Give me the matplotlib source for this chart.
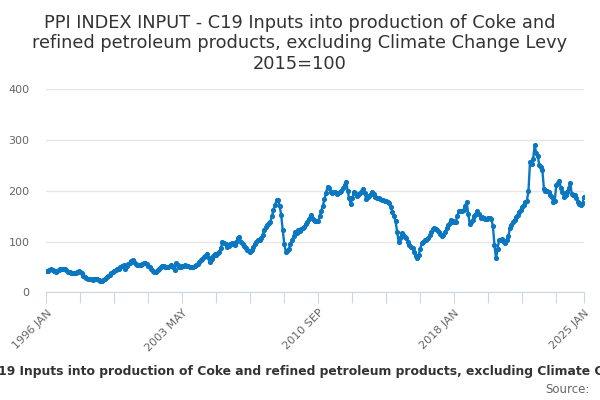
import matplotlib
matplotlib.use("Agg")
import matplotlib.pyplot as plt
import numpy as np

# monthly index values, 1996 JAN .. 2025 JAN
v1996 = [42, 43, 44, 46, 44, 42, 41, 43, 45, 47, 46, 46]
v1997 = [46, 44, 41, 40, 39, 39, 38, 39, 41, 42, 41, 38]
v1998 = [32, 30, 28, 27, 27, 26, 25, 26, 27, 26, 24, 23]
v1999 = [23, 24, 26, 30, 33, 35, 38, 40, 42, 44, 46, 47]
v2000 = [49, 51, 53, 46, 52, 56, 58, 61, 64, 60, 56, 53]
v2001 = [54, 53, 55, 57, 58, 55, 52, 50, 46, 42, 40, 41]
v2002 = [45, 47, 50, 52, 51, 49, 49, 50, 52, 53, 49, 45]
v2003 = [58, 54, 49, 49, 51, 51, 53, 52, 51, 50, 49, 50]
v2004 = [51, 53, 56, 60, 63, 66, 69, 72, 76, 68, 60, 66]
v2005 = [72, 76, 74, 77, 80, 88, 99, 97, 95, 90, 92, 95]
v2006 = [97, 95, 93, 100, 107, 109, 100, 95, 92, 88, 84, 82]
v2007 = [80, 84, 90, 96, 100, 103, 104, 106, 113, 122, 128, 133]
v2008 = [136, 139, 150, 162, 172, 181, 182, 170, 152, 122, 95, 80]
v2009 = [82, 86, 95, 103, 110, 119, 116, 122, 120, 125, 127, 128]
v2010 = [135, 138, 145, 152, 146, 143, 141, 140, 140, 150, 161, 170]
v2011 = [184, 196, 208, 205, 197, 196, 197, 198, 194, 196, 198, 200]
v2012 = [205, 212, 218, 200, 185, 173, 185, 197, 196, 190, 192, 196]
v2013 = [200, 204, 195, 184, 188, 190, 194, 197, 193, 188, 186, 185]
v2014 = [184, 182, 181, 180, 179, 178, 175, 168, 158, 150, 140, 119]
v2015 = [100, 106, 116, 113, 108, 106, 100, 93, 90, 88, 80, 72]
v2016 = [68, 74, 86, 97, 100, 103, 104, 106, 112, 119, 124, 126]
v2017 = [125, 123, 118, 114, 110, 113, 118, 126, 132, 136, 142, 140]
v2018 = [138, 139, 150, 160, 160, 161, 162, 170, 178, 155, 134, 138]
v2019 = [142, 150, 155, 160, 155, 147, 148, 146, 144, 145, 146, 147]
v2020 = [145, 130, 93, 67, 85, 103, 104, 105, 100, 97, 103, 110]
v2021 = [126, 133, 139, 143, 148, 152, 158, 162, 168, 172, 178, 180]
v2022 = [200, 256, 252, 262, 289, 275, 269, 250, 247, 240, 204, 200]
v2023 = [200, 198, 192, 188, 178, 180, 211, 215, 220, 205, 198, 188]
v2024 = [192, 198, 205, 215, 194, 192, 191, 185, 178, 174, 172, 175]
v2025 = [188]

values = (v1996 + v1997 + v1998 + v1999 + v2000 + v2001 + v2002 + v2003 + v2004
          + v2005 + v2006 + v2007 + v2008 + v2009 + v2010 + v2011 + v2012 + v2013
          + v2014 + v2015 + v2016 + v2017 + v2018 + v2019 + v2020 + v2021 + v2022
          + v2023 + v2024 + v2025)
months = np.arange(len(values))

mon_names = ["JAN", "FEB", "MAR", "APR", "MAY", "JUN", "JUL", "AUG", "SEP", "OCT", "NOV", "DEC"]
def month_label(i):
    return "%d %s" % (1996 + i // 12, mon_names[i % 12])

tick_pos = list(range(0, 331, 22)) + [348]
label_pos = [0, 88, 176, 264, 348]

title = ("PPI INDEX INPUT - C19 Inputs into production of Coke and\n"
         "refined petroleum products, excluding Climate Change Levy\n"
         "2015=100")
xtitle = "C19 Inputs into production of Coke and refined petroleum products, excluding Climate Change Levy"

fig = plt.figure(figsize=(6, 4), dpi=100)
ax = fig.add_axes([0.0772, 0.269, 0.8963, 0.5085])

ax.plot(months, values, color="#0a77c0", lw=1.7, marker="o", ms=2.7, zorder=3)

ax.set_xlim(0, 348)
ax.set_ylim(0, 400)
ax.set_yticks([0, 100, 200, 300, 400])
ax.grid(axis="y", color="#e6e6e6", lw=1)
ax.set_axisbelow(True)

ax.set_xticks(tick_pos)
ax.set_xticklabels([month_label(p) if p in label_pos else "" for p in tick_pos],
                   rotation=45, ha="right", va="top", rotation_mode="anchor")
ax.tick_params(axis="x", length=8, color="#ccd6eb", labelsize=8, labelcolor="#666666", pad=3)
ax.tick_params(axis="y", length=0, labelsize=8, labelcolor="#666666", pad=12)

for s in ["top", "right", "left"]:
    ax.spines[s].set_visible(False)
ax.spines["bottom"].set_color("#ccd6eb")

fig.text(0.5, 0.966, title, ha="center", va="top", fontsize=12.8, color="#333333",
         linespacing=1.18)
# axis title is wider than the figure in the original, so it runs off both edges
fig.text(-0.018, 0.07, xtitle, ha="left", va="center", fontsize=8.9, fontweight="bold",
         color="#333333")
fig.text(0.982, 0.027, "Source:", ha="right", va="center", fontsize=8.5, color="#666666")

fig.savefig("out.png", dpi=100)
